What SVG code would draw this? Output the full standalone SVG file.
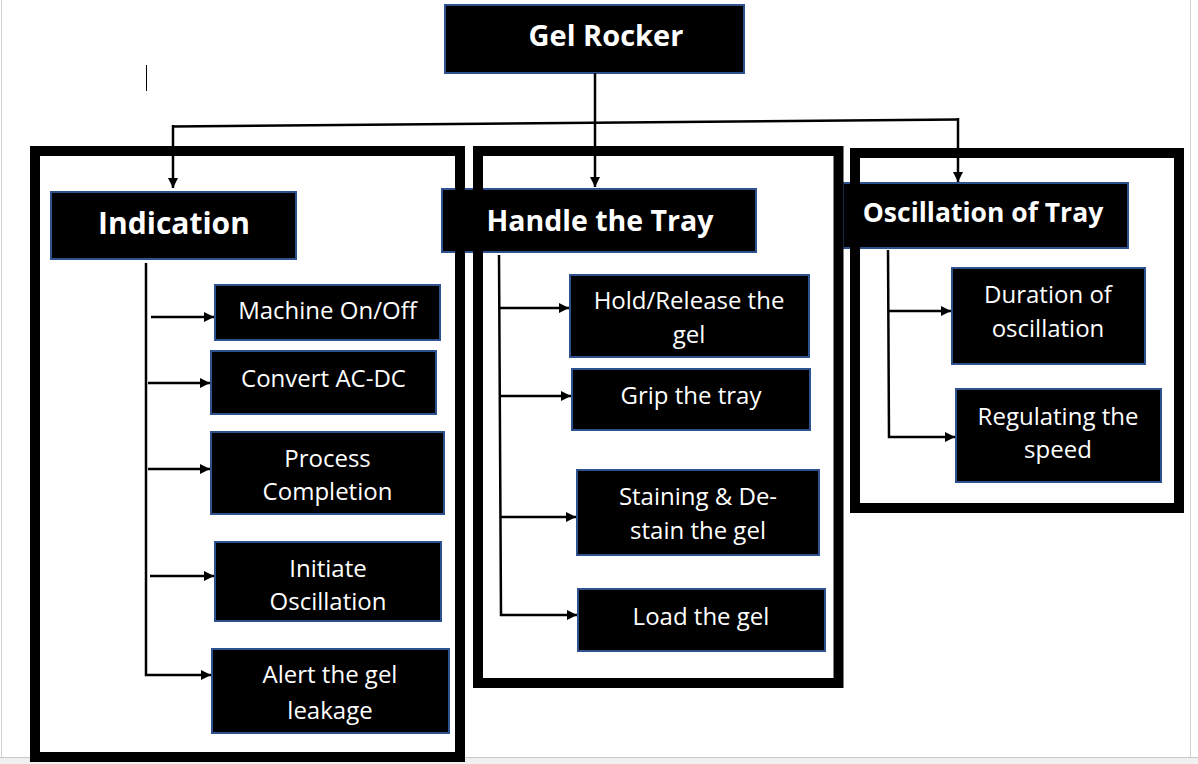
<svg xmlns="http://www.w3.org/2000/svg" width="1198" height="764" viewBox="0 0 1198 764">
<defs>
<style>
.node{fill:#000;stroke:#2F528F;stroke-width:2}
.frame{fill:none;stroke:#000;stroke-width:10}
.t{font-family:"Open Sans","Noto Sans",sans-serif;font-size:24px;fill:#fff;text-anchor:middle}
.b{font-family:"Open Sans","Noto Sans",sans-serif;font-weight:bold;fill:#fff;text-anchor:middle}
.c{fill:none;stroke:#000;stroke-width:2.5}
</style>
<marker id="ah" viewBox="0 0 10 10" refX="10" refY="5" markerWidth="12" markerHeight="10" markerUnits="userSpaceOnUse" orient="auto">
<path d="M0,0 L10,5 L0,10 z" fill="#000"/>
</marker>
</defs>
<rect x="0" y="0" width="1198" height="764" fill="#fff"/>
<g id="screen-frame">
<line x1="1.5" y1="0" x2="1.5" y2="757" stroke="#d4d4d4" stroke-width="1"/>
<line x1="1190.5" y1="0" x2="1190.5" y2="757" stroke="#d4d4d4" stroke-width="1"/>
<rect x="0" y="757" width="1198" height="7" fill="#f0f0f0"/>
<line x1="0" y1="757.5" x2="1198" y2="757.5" stroke="#c8c8c8" stroke-width="1"/>
<line x1="146.5" y1="65" x2="146.5" y2="91" stroke="#000" stroke-width="1"/>
</g>
<g id="root">
<rect class="node" x="445" y="5" width="299" height="68"/>
<text class="b" x="606" y="46" font-size="29">Gel Rocker</text>
</g>
<g id="connectors">
<line class="c" x1="595" y1="73" x2="595" y2="187" marker-end="url(#ah)"/>
<line class="c" x1="172" y1="126.5" x2="958" y2="119.5" stroke-width="3"/>
<line class="c" x1="173" y1="125" x2="173" y2="188" marker-end="url(#ah)"/>
<line class="c" x1="958" y1="118" x2="958" y2="182" marker-end="url(#ah)"/>
<polyline class="c" points="146,263 146,675 211,675" marker-end="url(#ah)"/>
<line class="c" x1="151" y1="317" x2="214" y2="317" marker-end="url(#ah)"/>
<line class="c" x1="148" y1="383" x2="210" y2="383" marker-end="url(#ah)"/>
<line class="c" x1="148" y1="469" x2="210" y2="469" marker-end="url(#ah)"/>
<line class="c" x1="150" y1="576" x2="214" y2="576" marker-end="url(#ah)"/>
<polyline class="c" points="499,255 501,615 577,615" marker-end="url(#ah)"/>
<line class="c" x1="499" y1="308" x2="569" y2="308" marker-end="url(#ah)"/>
<line class="c" x1="500" y1="396" x2="571" y2="396" marker-end="url(#ah)"/>
<line class="c" x1="501" y1="517" x2="576" y2="517" marker-end="url(#ah)"/>
<polyline class="c" points="888,250 889,437 955,437" marker-end="url(#ah)"/>
<line class="c" x1="888" y1="311" x2="951" y2="311" marker-end="url(#ah)"/>
</g>
<g id="indication">
<rect class="node" x="51" y="192" width="245" height="67"/>
<text class="b" x="174" y="234" font-size="30">Indication</text>
</g>
<g id="handle-tray">
<rect class="node" x="442" y="189" width="314" height="63"/>
<text class="b" x="600" y="231" font-size="28.5">Handle the Tray</text>
</g>
<g id="oscillation-tray">
<rect class="node" x="843" y="183" width="285" height="65"/>
<text class="b" x="983" y="222" font-size="26.5">Oscillation of Tray</text>
</g>
<g id="frames">
<rect class="frame" x="35" y="151" width="425" height="606"/>
<rect class="frame" x="478" y="151" width="360.5" height="532"/>
<rect class="frame" x="855" y="153" width="324" height="355"/>
</g>
<g id="machine-onoff">
<rect class="node" x="215" y="285" width="225" height="55"/>
<text class="t" x="327.5" y="319">Machine On/Off</text>
</g>
<g id="convert-acdc">
<rect class="node" x="211" y="351" width="225" height="63"/>
<text class="t" x="323.5" y="387">Convert AC-DC</text>
</g>
<g id="process-completion">
<rect class="node" x="211" y="432" width="233" height="82"/>
<text class="t" x="327.5" y="467">Process</text>
<text class="t" x="327.5" y="500">Completion</text>
</g>
<g id="initiate-oscillation">
<rect class="node" x="215" y="542" width="226" height="79"/>
<text class="t" x="328" y="577">Initiate</text>
<text class="t" x="328" y="610">Oscillation</text>
</g>
<g id="alert-leakage">
<rect class="node" x="212" y="649" width="237" height="84"/>
<text class="t" x="330" y="683">Alert the gel</text>
<text class="t" x="330" y="719">leakage</text>
</g>
<g id="hold-release">
<rect class="node" x="570" y="275" width="239" height="82"/>
<text class="t" x="689" y="309">Hold/Release the</text>
<text class="t" x="689" y="343">gel</text>
</g>
<g id="grip-tray">
<rect class="node" x="572" y="369" width="238" height="61"/>
<text class="t" x="691" y="404">Grip the tray</text>
</g>
<g id="staining">
<rect class="node" x="577" y="470" width="242" height="85"/>
<text class="t" x="698" y="505">Staining &amp; De-</text>
<text class="t" x="698" y="539">stain the gel</text>
</g>
<g id="load-gel">
<rect class="node" x="578" y="589" width="247" height="62"/>
<text class="t" x="701" y="625">Load the gel</text>
</g>
<g id="duration">
<rect class="node" x="952" y="268" width="193" height="96"/>
<text class="t" x="1048" y="303">Duration of</text>
<text class="t" x="1048" y="337">oscillation</text>
</g>
<g id="regulating-speed">
<rect class="node" x="956" y="389" width="205" height="93"/>
<text class="t" x="1058" y="425">Regulating the</text>
<text class="t" x="1058" y="458">speed</text>
</g>
</svg>
